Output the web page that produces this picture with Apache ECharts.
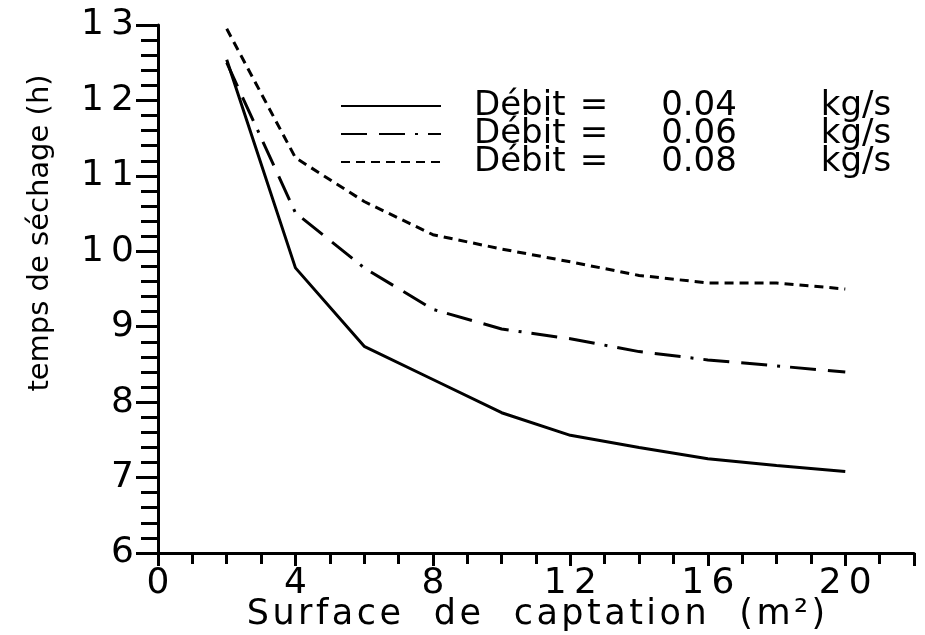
<!DOCTYPE html>
<html>
<head>
<meta charset="utf-8">
<script src="https://cdn.jsdelivr.net/npm/echarts@6/dist/echarts.min.js"></script>
<style>
  html, body { margin: 0; padding: 0; background: #fff; }
  #main { width: 925px; height: 635px; }
</style>
</head>
<body>
<div id="main"></div>
<script>
// surface de captation (m²)
var surface = [2, 4, 6, 8, 10, 12, 14, 16, 18, 20]
// temps de séchage (h) pour chaque débit
var debit004 = [12.54, 9.78, 8.74, 8.30, 7.86, 7.56, 7.40, 7.25, 7.16, 7.08]
var debit006 = [12.50, 10.51, 9.78, 9.23, 8.97, 8.84, 8.67, 8.56, 8.48, 8.40]
var debit008 = [12.95, 11.24, 10.66, 10.22, 10.03, 9.86, 9.68, 9.58, 9.58, 9.50]
var debitLabels = ['0.04', '0.06', '0.08']
var legendNames = debitLabels.map(function (d) { return 'Débit = ' + d + ' kg/s' })

function pairs(ys) {
  return ys.map(function (y, i) { return [surface[i], y] })
}
// chiffres un peu espacés comme sur le tracé d'origine
function spaced(v) {
  return String(v).split('').join('\u2009')
}

var font = 'DejaVu Sans'
var myChart = echarts.init(document.getElementById('main'))
myChart.setOption({
  animation: false,
  backgroundColor: '#fff',
  grid: { left: 158, right: 11, top: 25, bottom: 82, containLabel: false, outerBoundsMode: 'none' },
  legend: {
    orient: 'vertical',
    left: 335,
    top: 84,
    itemWidth: 100,
    itemHeight: 14,
    itemGap: -6,
    itemStyle: { opacity: 0 },
    formatter: function (name) {
      var i = legendNames.indexOf(name)
      return '{p| }{a|Débit}{b|=}{c|' + debitLabels[i] + '}{d|kg/s}'
    },
    textStyle: {
      fontFamily: font,
      fontSize: 34,
      color: '#000',
      rich: {
        p: { width: 28, fontSize: 34 },
        a: { width: 100, align: 'left', fontFamily: font, fontSize: 34 },
        b: { width: 40, align: 'center', fontFamily: font, fontSize: 34 },
        c: { width: 170, align: 'center', fontFamily: font, fontSize: 34 },
        d: { width: 144, align: 'center', fontFamily: font, fontSize: 34 }
      }
    },
    data: legendNames
  },
  xAxis: {
    type: 'value',
    min: 0,
    max: 22,
    interval: 4,
    name: 'Surface  de  captation  (m²)'.split('').join('\u200A'),
    nameLocation: 'middle',
    nameGap: 44,
    nameMoveOverlap: false,
    nameTextStyle: { fontFamily: font, fontSize: 35, color: '#000' },
    axisLine: { lineStyle: { color: '#000', width: 3 } },
    axisTick: { inside: false, length: 13, lineStyle: { color: '#000', width: 3 } },
    minorTick: { show: true, splitNumber: 4, length: 11, lineStyle: { color: '#000', width: 3 } },
    axisLabel: { fontFamily: font, fontSize: 36, color: '#000', margin: 13, showMaxLabel: false, formatter: spaced },
    splitLine: { show: false }
  },
  yAxis: {
    type: 'value',
    min: 6,
    max: 13,
    interval: 1,
    axisLine: { lineStyle: { color: '#000', width: 3 } },
    axisTick: { inside: false, length: 22, lineStyle: { color: '#000', width: 3 } },
    minorTick: { show: true, splitNumber: 5, length: 17, lineStyle: { color: '#000', width: 3 } },
    axisLabel: { fontFamily: font, fontSize: 36, color: '#000', margin: 24, formatter: spaced },
    splitLine: { show: false }
  },
  graphic: [{
    type: 'text',
    x: 40,
    y: 233,
    rotation: Math.PI / 2,
    style: {
      text: 'temps de séchage (h)',
      fontFamily: font,
      fontSize: 29,
      fill: '#000',
      align: 'center',
      verticalAlign: 'middle'
    }
  }],
  series: [{
    name: legendNames[0],
    type: 'line',
    symbol: 'none',
    data: pairs(debit004),
    lineStyle: { color: '#000', width: 3, type: 'solid' },
    itemStyle: { color: '#000' }
  }, {
    name: legendNames[1],
    type: 'line',
    symbol: 'none',
    data: pairs(debit006),
    lineStyle: { color: '#000', width: 3, type: [26, 12, 26, 10, 3, 10] },
    itemStyle: { color: '#000' }
  }, {
    name: legendNames[2],
    type: 'line',
    symbol: 'none',
    data: pairs(debit008),
    lineStyle: { color: '#000', width: 3, type: [9, 6] },
    itemStyle: { color: '#000' }
  }]
})
</script>
</body>
</html>
